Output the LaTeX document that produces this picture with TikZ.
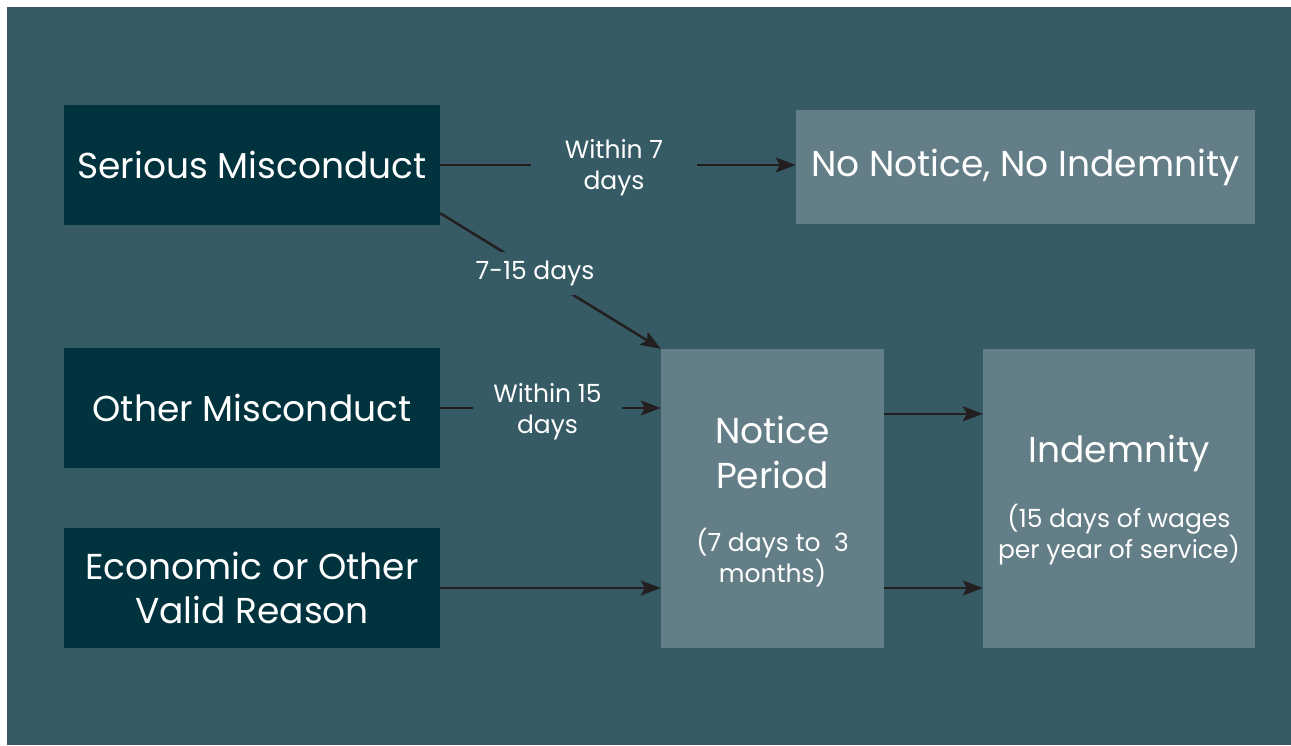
\documentclass[tikz,border=0pt]{standalone}
\usepackage{fontspec}
\setmainfont{Poppins}
\usetikzlibrary{arrows.meta,calc}
\definecolor{bg}{HTML}{365B65}
\definecolor{darkbox}{HTML}{00333D}
\definecolor{lightbox}{HTML}{647E87}
\definecolor{arrowc}{HTML}{231F20}
\tikzset{
  darkbx/.style={fill=darkbox, inner sep=0pt, minimum width=376pt, minimum height=120pt, text=white, align=center, font=\fontsize{36}{44}\selectfont},
  lightbx/.style={fill=lightbox, inner sep=0pt, text=white, align=center},
  bigtxt/.style={text=white, align=center, font=\fontsize{36}{45}\selectfont},
  smalltxt/.style={text=white, align=center, font=\fontsize{25}{31}\selectfont},
  lbl/.style={fill=bg, text=white, align=center, inner ysep=2pt, font=\fontsize{25}{31}\selectfont},
  arr/.style={draw=arrowc, line width=2.5pt, -{Stealth[length=20pt,width=15pt,inset=4pt]}}
}
\begin{document}
\begin{tikzpicture}[x=1pt,y=-1pt]
\useasboundingbox (0,0) rectangle (1291,745);
\fill[white] (0,0) rectangle (1291,745);
\fill[bg] (7,7) rectangle (1291,745);
% left boxes
\node[darkbx] (sm) at (252,165) {Serious Misconduct};
\node[darkbx] (om) at (252,408) {Other Misconduct};
\node[darkbx] (ec) at (252,588) {Economic or Other\\Valid Reason};
% right boxes
\node[lightbx, minimum width=459pt, minimum height=114pt, font=\fontsize{36}{44}\selectfont] (nn) at (1025.5,167) {No Notice, No Indemnity};
\node[lightbx, minimum width=223pt, minimum height=299pt] (np) at (772.5,498.5) {};
\node[lightbx, minimum width=272pt, minimum height=299pt] (ind) at (1119,498.5) {};
% texts inside tall boxes
\node[bigtxt] (npt) at (772.5,452) {Notice\\Period};
\node[smalltxt] (nps) at (772.5,558) {(7 days to \ 3\\months)};
\node[bigtxt] (indt) at (1119,453) {Indemnity};
\node[smalltxt] (inds) at (1119,535) {(15 days of wages\\per year of service)};
% connectors
\draw[arr] (sm.east) -- (nn.west |- sm.east)
  node[lbl, midway, inner xsep=34pt, xshift=-4pt, yshift=-3pt] {Within 7\\days};
\draw[arr] ($(sm.south east)+(0,-12)$) -- (np.north west)
  node[lbl, pos=0.43, inner xsep=1pt, inner ysep=9pt, yshift=-2pt] {7-15 days};
\draw[arr] (om.east) -- (np.west |- om.east)
  node[lbl, midway, inner xsep=20pt, xshift=-3pt, yshift=-4pt] {Within 15\\days};
\draw[arr] (ec.east) -- (np.west |- ec.east);
\draw[arr] ($(np.north east)+(0,65)$) -- ($(ind.north west)+(0,65)$);
\draw[arr] (np.east |- ec.east) -- (ind.west |- ec.east);
\end{tikzpicture}
\end{document}
